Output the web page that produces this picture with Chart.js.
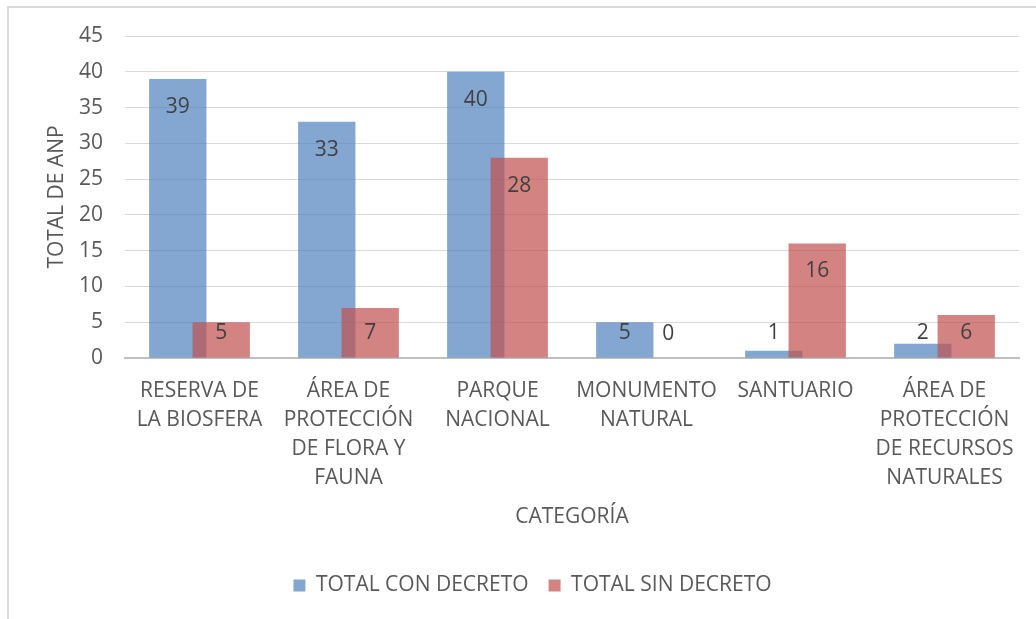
<!DOCTYPE html>
<html>
<head>
<meta charset="utf-8">
<script src="https://cdn.jsdelivr.net/npm/chart.js@4/dist/chart.umd.min.js"></script>
<style>
  html, body { margin: 0; padding: 0; background: #fff; overflow: hidden; }
  #wrap { position: absolute; left: 0; top: 0; width: 1036px; height: 619px; }
  #frame { position: absolute; left: 7px; top: 6px; width: 1100px; height: 700px;
           border-left: 2px solid #D9D9D9; border-top: 2px solid #D9D9D9; }
</style>
</head>
<body>
<div id="wrap">
  <div id="frame"></div>
  <canvas id="anpChart" width="1036" height="619"></canvas>
</div>
<script>
// categories (multi-line like the original)
const categories = [
    ['RESERVA DE', 'LA BIOSFERA'],
    ['ÁREA DE', 'PROTECCIÓN', 'DE FLORA Y', 'FAUNA'],
    ['PARQUE', 'NACIONAL'],
    ['MONUMENTO', 'NATURAL'],
    ['SANTUARIO'],
    ['ÁREA DE', 'PROTECCIÓN', 'DE RECURSOS', 'NATURALES']
];
const conDecreto = [39, 33, 40, 5, 1, 2];
const sinDecreto = [5, 7, 28, 0, 16, 6];
const yTicks = [0, 5, 10, 15, 20, 25, 30, 35, 40, 45];

const FONT = "'Open Sans', sans-serif";
const TEXT = '#595959';

// draw the series in their own order so the red bars sit on top of the blue ones,
// then put the value labels Excel-style ("inside end")
const drawOrder = {
    id: 'drawOrder',
    beforeDatasetsDraw(chart) {
        const metas = chart.getSortedVisibleDatasetMetas();
        metas.forEach(meta => meta.controller.draw());

        const ctx = chart.ctx;
        ctx.save();
        ctx.font = '21px ' + FONT;
        ctx.fillStyle = '#404040';
        ctx.textAlign = 'center';
        ctx.textBaseline = 'middle';
        metas.forEach(meta => {
            const values = chart.data.datasets[meta.index].data;
            meta.data.forEach((bar, j) => {
                const y = Math.min(bar.y + 28, bar.base - 24);
                ctx.fillText(String(values[j]), bar.x, y);
            });
        });
        ctx.restore();
        return false;
    }
};

const ctx = document.getElementById('anpChart').getContext('2d');
new Chart(ctx, {
    type: 'bar',
    data: {
        labels: categories,
        datasets: [
            {
                label: 'TOTAL CON DECRETO',
                data: conDecreto,
                backgroundColor: 'rgba(79, 129, 189, 0.7)',
                categoryPercentage: 0.583,
                barPercentage: 1.32
            },
            {
                label: 'TOTAL SIN DECRETO',
                data: sinDecreto,
                backgroundColor: 'rgba(192, 80, 77, 0.7)',
                categoryPercentage: 0.583,
                barPercentage: 1.32
            }
        ]
    },
    options: {
        responsive: false,
        animation: false,
        layout: { padding: { left: 46, right: 17, top: 36, bottom: 13 } },
        plugins: {
            tooltip: { enabled: false },
            legend: {
                position: 'bottom',
                labels: {
                    font: { family: FONT, size: 21 },
                    color: TEXT,
                    boxWidth: 12,
                    boxHeight: 12,
                    padding: 20
                }
            }
        },
        scales: {
            x: {
                grid: { display: false },
                border: { display: true, color: '#BFBFBF', width: 2 },
                ticks: {
                    font: { family: FONT, size: 21, lineHeight: 1.38 },
                    color: TEXT,
                    padding: 11,
                    maxRotation: 0,
                    autoSkip: false
                },
                title: {
                    display: true,
                    text: 'CATEGORÍA',
                    font: { family: FONT, size: 21 },
                    color: TEXT,
                    padding: { top: 0, bottom: 25 }
                },
                afterFit(scale) { scale.height = 197; }
            },
            y: {
                min: 0,
                max: 45,
                afterBuildTicks(scale) { scale.ticks = yTicks.map(v => ({ value: v })); },
                grid: { color: '#D9D9D9', drawTicks: false },
                border: { display: false },
                ticks: {
                    font: { family: FONT, size: 21 },
                    color: TEXT,
                    padding: 22
                },
                title: {
                    display: true,
                    text: 'TOTAL DE ANP',
                    font: { family: FONT, size: 21, lineHeight: 1 },
                    color: TEXT,
                    padding: { top: 0.5, bottom: 0 }
                },
                afterFit(scale) { scale.width = 79; }
            }
        }
    },
    plugins: [drawOrder]
});
</script>
</body>
</html>
